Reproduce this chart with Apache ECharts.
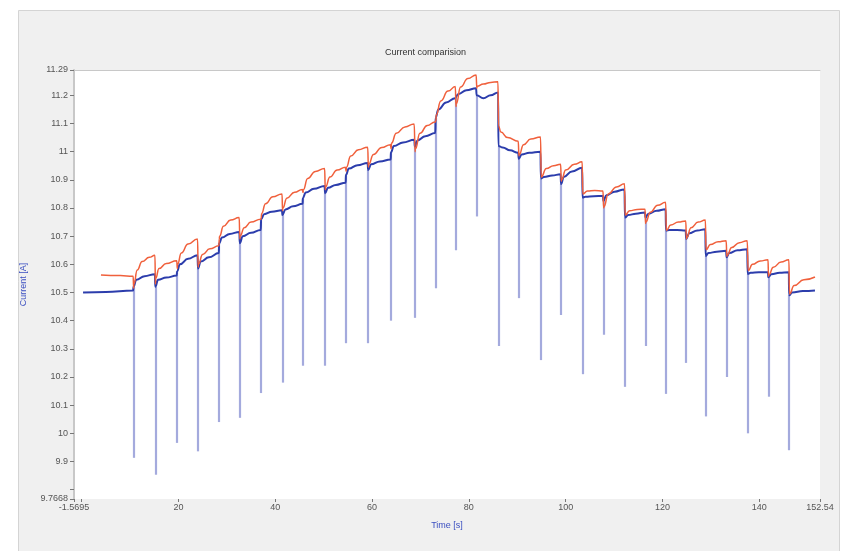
<!DOCTYPE html>
<html>
<head>
<meta charset="utf-8">
<title>Current comparision</title>
<script src="https://cdn.jsdelivr.net/npm/echarts@6/dist/echarts.min.js"></script>
<style>
  html, body { margin: 0; padding: 0; background: #fff; }
  #main { width: 851px; height: 551px; }
</style>
</head>
<body>
<div id="main"></div>
<script>
// axis ranges and tick labels as printed on the original
const xMin = -1.5695, xMax = 152.54;
const yMin = 9.7668, yMax = 11.29;
const xLabelValues = [-1.5695, 20, 40, 60, 80, 100, 120, 140, 152.54];
const xTickValues = [-1.5695, 0, 20, 40, 60, 80, 100, 120, 140, 152.54];
const yLabelValues = [9.7668, 9.9, 10, 10.1, 10.2, 10.3, 10.4, 10.5, 10.6, 10.7, 10.8, 10.9, 11, 11.1, 11.2, 11.29];
const yTickValues = [9.7668, 9.8, 9.9, 10, 10.1, 10.2, 10.3, 10.4, 10.5, 10.6, 10.7, 10.8, 10.9, 11, 11.1, 11.2, 11.29];

// step instants [s] and the lowest point of the measured dip at each step [A]
const stepTimes = [10.71, 15.22, 19.73, 24.04, 28.41, 32.66, 37.09, 41.48, 45.70, 50.30,
  54.61, 59.18, 63.90, 68.82, 73.13, 77.29, 81.60, 86.11, 90.30, 94.87,
  99.04, 103.49, 107.79, 112.25, 116.47, 120.72, 124.88, 128.92, 133.23, 137.60,
  141.85, 146.15];
const stepLows = [9.913, 9.853, 9.966, 9.936, 10.04, 10.055, 10.143, 10.18, 10.24, 10.24,
  10.32, 10.32, 10.40, 10.41, 10.515, 10.65, 10.77, 10.31, 10.48, 10.26,
  10.42, 10.21, 10.35, 10.165, 10.31, 10.14, 10.25, 10.06, 10.20, 10.00,
  10.13, 9.94];

// measured current (blue)  [time, current]
const measured = [
  [0.3,10.500],[5,10.502],[10.65,10.507],
  [10.71,10.520],[11.3,10.545],[13,10.558],[15.15,10.565],
  [15.22,10.520],[15.8,10.545],[17.5,10.553],[19.65,10.560],
  [19.73,10.575],[20.3,10.600],[22,10.620],[23.95,10.632],
  [24.04,10.585],[24.6,10.610],[26.3,10.625],[28.35,10.640],
  [28.41,10.675],[29,10.695],[30.6,10.708],[32.6,10.715],
  [32.66,10.675],[33.3,10.700],[35,10.712],[37.0,10.722],
  [37.09,10.760],[37.7,10.778],[39.3,10.787],[41.4,10.792],
  [41.48,10.775],[42.1,10.795],[43.7,10.806],[45.65,10.815],
  [45.70,10.835],[46.3,10.855],[48,10.868],[50.2,10.878],
  [50.30,10.852],[50.9,10.872],[52.5,10.882],[54.55,10.890],
  [54.61,10.918],[55.2,10.940],[57,10.952],[59.1,10.960],
  [59.18,10.935],[59.8,10.955],[61.6,10.965],[63.85,10.972],
  [63.90,10.998],[64.5,11.020],[66.4,11.033],[68.75,11.042],
  [68.82,11.018],[69.4,11.040],[71,11.055],[73.05,11.066],
  [73.13,11.120],[73.7,11.150],[75.3,11.175],[77.2,11.190],
  [77.29,11.190],[77.9,11.205],[79.5,11.218],[81.5,11.225],
  [81.60,11.200],[83,11.190],[84.5,11.200],[86.05,11.210],
  [86.11,11.020],[87,11.015],[88.5,11.005],[90.2,10.996],
  [90.30,10.975],[90.9,10.990],[92.5,10.996],[94.8,11.000],
  [94.87,10.905],[95.5,10.910],[97.2,10.915],[98.95,10.920],
  [99.04,10.885],[99.6,10.910],[101.3,10.930],[103.4,10.943],
  [103.49,10.837],[104.1,10.840],[105.8,10.842],[107.7,10.843],
  [107.79,10.825],[108.4,10.845],[110.1,10.858],[112.15,10.866],
  [112.25,10.766],[112.9,10.775],[114.5,10.780],[116.4,10.784],
  [116.47,10.766],[117.1,10.780],[118.8,10.790],[120.65,10.796],
  [120.72,10.720],[121.4,10.722],[123,10.722],[124.8,10.720],
  [124.88,10.690],[125.5,10.710],[127.2,10.720],[128.85,10.725],
  [128.92,10.630],[129.5,10.640],[131.2,10.645],[133.15,10.648],
  [133.23,10.625],[133.8,10.640],[135.5,10.650],[137.5,10.654],
  [137.60,10.566],[138.2,10.570],[139.9,10.572],[141.8,10.572],
  [141.85,10.554],[142.5,10.565],[144.2,10.570],[146.1,10.572],
  [146.15,10.490],[146.8,10.500],[149,10.505],[151.5,10.507]
];

// simulated current (red)  [time, current]
const simulated = [
  [4.0,10.562],[8,10.560],[10.65,10.558],[10.75,10.515],
  [10.8,10.530],[11.5,10.580],[12.5,10.610],[14,10.625],[15.15,10.632],[15.25,10.530],
  [15.3,10.550],[16,10.585],[17.5,10.603],[19.65,10.613],[19.78,10.585],
  [19.83,10.600],[20.6,10.640],[22,10.672],[23.95,10.690],[24.08,10.590],
  [24.12,10.600],[25,10.635],[26.5,10.655],[28.35,10.666],[28.45,10.690],
  [28.5,10.700],[29.3,10.735],[30.8,10.757],[32.55,10.766],[32.7,10.690],
  [32.75,10.700],[33.6,10.730],[35,10.750],[37.0,10.760],[37.12,10.765],
  [37.17,10.780],[38,10.815],[39.5,10.840],[41.4,10.850],[41.52,10.790],
  [41.57,10.800],[42.4,10.835],[44,10.856],[45.6,10.866],[45.75,10.855],
  [45.8,10.865],[46.7,10.905],[48.3,10.930],[50.2,10.940],[50.35,10.865],
  [50.4,10.875],[51.3,10.910],[52.8,10.935],[54.5,10.945],[54.65,10.930],
  [54.7,10.945],[55.6,10.985],[57.2,11.007],[59.1,11.016],[59.25,10.945],
  [59.3,10.955],[60.3,10.990],[62,11.015],[63.8,11.025],[63.95,11.010],
  [64,11.030],[65,11.065],[66.8,11.088],[68.7,11.098],[68.9,11.000],
  [68.95,11.010],[69.9,11.065],[71.4,11.093],[73,11.105],[73.2,11.110],
  [73.25,11.130],[74.2,11.180],[75.7,11.215],[77.2,11.231],[77.35,11.160],
  [77.4,11.170],[78.3,11.230],[79.8,11.260],[81.5,11.272],[81.65,11.225],
  [81.7,11.232],[83,11.240],[84.5,11.246],[86,11.248],
  [86.15,11.090],[86.6,11.070],[88,11.050],[90.2,11.037],[90.35,10.985],
  [90.4,10.990],[91.3,11.025],[92.8,11.045],[94.8,11.052],
  [94.95,10.910],[96,10.940],[97.5,10.950],[98.95,10.955],[99.1,10.895],
  [99.15,10.900],[100,10.935],[101.8,10.955],[103.4,10.964],
  [103.55,10.850],[104.5,10.860],[106,10.862],[107.7,10.860],[107.85,10.800],
  [107.9,10.805],[108.8,10.850],[110.5,10.875],[112.15,10.886],
  [112.3,10.775],[113.2,10.790],[114.8,10.795],[116.4,10.796],[116.5,10.745],
  [116.55,10.750],[117.5,10.785],[119,10.810],[120.65,10.820],
  [120.8,10.720],[121.7,10.740],[123.3,10.750],[124.8,10.754],[124.95,10.690],
  [125,10.695],[125.9,10.730],[127.4,10.750],[128.85,10.757],
  [129,10.652],[129.9,10.670],[131.5,10.680],[133.15,10.684],[133.3,10.628],
  [133.35,10.632],[134.3,10.660],[135.9,10.677],[137.5,10.684],
  [137.7,10.578],[138.6,10.600],[140.2,10.612],[141.8,10.616],[141.9,10.558],
  [141.95,10.562],[142.9,10.590],[144.5,10.608],[146.1,10.616],
  [146.25,10.495],[147.2,10.525],[149.2,10.545],[151.5,10.555]
];

// vertical dips of the measurement, from the new level down to the low
const spikeData = stepTimes.map(function (t, i) {
  const top = measured.find(function (p) { return p[0] === t; })[1];
  return { coords: [[t, top], [t, stepLows[i]]] };
});

const labelFont = {
  color: '#555',
  fontSize: 9,
  fontFamily: 'Liberation Sans Narrow, Liberation Sans, sans-serif'
};

const chart = echarts.init(document.getElementById('main'), null, { renderer: 'canvas' });

const option = {
  backgroundColor: '#ffffff',
  animation: false,
  graphic: [{
    type: 'rect',
    z: -10,
    shape: { x: 18.5, y: 10.5, width: 821, height: 545 },
    style: { fill: '#f0f0f0', stroke: '#d4d4d4', lineWidth: 1 }
  }],
  title: {
    text: 'Current comparision',
    left: 'center',
    top: 43,
    textStyle: {
      color: '#333',
      fontSize: 9,
      fontWeight: 'normal',
      fontFamily: 'Liberation Sans Narrow, Liberation Sans, sans-serif'
    }
  },
  grid: {
    left: 74,
    right: 31,
    top: 70,
    bottom: 52,
    show: true,
    backgroundColor: '#ffffff',
    borderWidth: 0
  },
  xAxis: [{
    type: 'value',
    min: xMin,
    max: xMax,
    name: 'Time [s]',
    nameLocation: 'middle',
    nameGap: 22,
    nameTextStyle: { color: '#3a4ec0', fontSize: 9, fontFamily: labelFont.fontFamily },
    splitLine: { show: false },
    axisLine: { show: false },
    axisTick: { show: true, length: 3, lineStyle: { color: '#777' }, customValues: xTickValues },
    axisLabel: Object.assign({ margin: 4, customValues: xLabelValues, formatter: function (v) { return String(v); } }, labelFont)
  }, {
    type: 'value',
    position: 'top',
    min: xMin,
    max: xMax,
    splitLine: { show: false },
    axisLine: { show: true, onZero: false, lineStyle: { color: '#c8c8c8', width: 1 } },
    axisTick: { show: false },
    axisLabel: { show: false }
  }],
  yAxis: {
    type: 'value',
    min: yMin,
    max: yMax,
    name: 'Current [A]',
    nameLocation: 'middle',
    nameGap: 46,
    nameTextStyle: { color: '#3a4ec0', fontSize: 9, fontFamily: labelFont.fontFamily },
    splitLine: { show: false },
    axisLine: { show: true, onZero: false, lineStyle: { color: '#c8c8c8', width: 2 } },
    axisTick: { show: true, length: 4, lineStyle: { color: '#777' }, customValues: yTickValues },
    axisLabel: Object.assign({ margin: 6, customValues: yLabelValues, formatter: function (v) { return String(v); } }, labelFont)
  },
  series: [{
    name: 'dips',
    type: 'lines',
    coordinateSystem: 'cartesian2d',
    xAxisIndex: 0,
    z: 1,
    lineStyle: { color: '#a4aadd', width: 2.2, opacity: 1 },
    data: spikeData
  }, {
    name: 'measured',
    type: 'line',
    xAxisIndex: 0,
    z: 2,
    showSymbol: false,
    smooth: 0.45,
    smoothMonotone: 'x',
    lineStyle: { color: '#2c3dac', width: 2 },
    data: measured
  }, {
    name: 'simulated',
    type: 'line',
    xAxisIndex: 0,
    z: 3,
    showSymbol: false,
    smooth: 0.5,
    smoothMonotone: 'x',
    lineStyle: { color: '#f0603c', width: 1.5 },
    data: simulated
  }]
};

chart.setOption(option);
</script>
</body>
</html>
